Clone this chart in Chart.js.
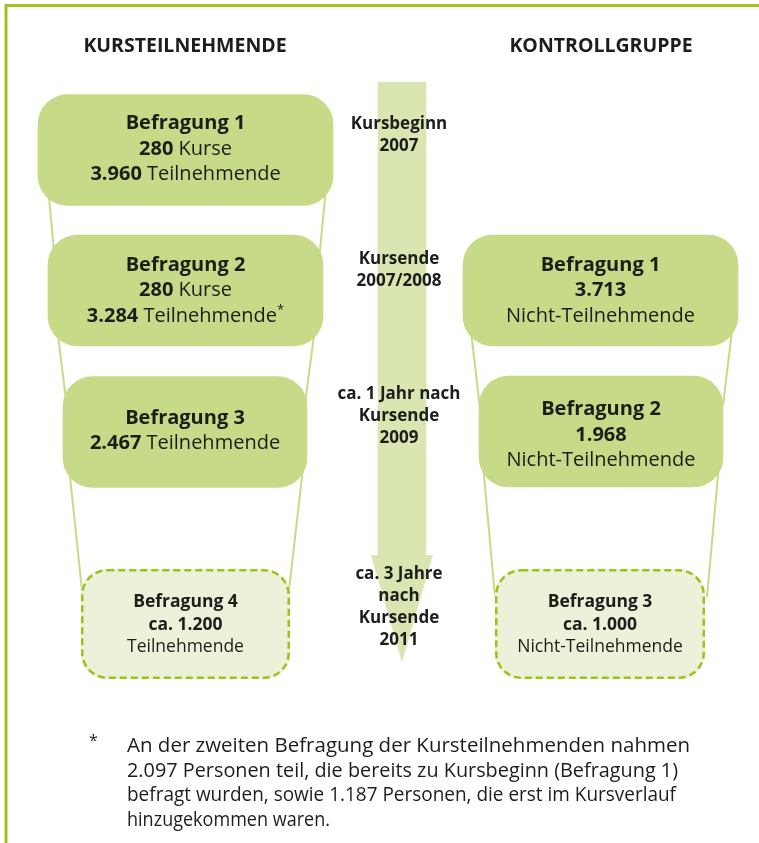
<!DOCTYPE html>
<html><head><meta charset="utf-8">
<script src="https://cdn.jsdelivr.net/npm/chart.js@4"></script>
<style>html,body{margin:0;padding:0;background:#fff;}#wrap{position:relative;width:759px;height:843px;}canvas{display:block;}</style>
</head><body><div id="wrap"><canvas id="c" width="759" height="843"></canvas></div>
<script>
// ---------- DATA ----------
const gruppen = ['KURSTEILNEHMENDE', 'KONTROLLGRUPPE'];
const kursBefragungen = ['Befragung 1', 'Befragung 2', 'Befragung 3', 'Befragung 4'];
const kursKurse = [280, 280, null, null];
const kursTeilnehmende = [3960, 3284, 2467, 1200];
const kursGeplant = [false, false, false, true];
const kursFussnote = [false, true, false, false];
const kontrollBefragungen = ['Befragung 1', 'Befragung 2', 'Befragung 3'];
const kontrollTeilnehmende = [3713, 1968, 1000];
const kontrollGeplant = [false, false, true];
const zeitpunkte = [['Kursbeginn', '2007'], ['Kursende', '2007/2008'], ['ca. 1 Jahr nach', 'Kursende', '2009'], ['ca. 3 Jahre', 'nach', 'Kursende', '2011']];
const fussnoteWiederholer = 2097;
const fussnoteNeu = 1187;

// ---------- LAYOUT / STYLE ----------
const FONT = '"Open Sans", "Noto Sans", sans-serif';
const COL = { box: '#c6da87', light: '#d9e6b1', dashFill: '#ebf2d9', dash: '#9cc21b', frame: '#9fc41f', text: '#1d1d1b' };
const kursBoxes = [[38, 333, 95, 205], [48, 323, 235, 346], [63, 307, 377, 487], [81, 290, 568, 680]];
const kursTextDy = [-1, 0, -1, 0];
const kontrollBoxes = [[463, 738, 235, 346], [479, 723, 376, 487], [495, 705, 568, 680]];
const kontrollTextDy = [0, 3.5, 0];
const connectors = [
  [48.3, 190, 54.8, 260], [325.8, 190, 319, 260],
  [58, 335, 66, 400], [314, 335, 305.5, 400],
  [69.3, 470, 82.7, 597], [302.8, 470, 288.2, 597],
  [471.5, 335, 479.5, 405], [731.5, 335, 723, 405],
  [483.5, 470, 495, 597], [718.5, 470, 707, 597]
];
const arrow = { cx: 402, w: 48, top: 82, headY: 555, headHalf: 31, tip: 662 };
const midX = 399;
const midFirstBaseline = [129, 264, 399, 579];
const midSpacing = 22;
const headerX = [185, 601], headerY = 52;
const footX = 127, footY = 752, footLH = 24.5, footWidths = [563, 551, 549, 203];
const fmt = n => String(n).replace(/\B(?=(\d{3})+(?!\d))/g, '.');

// ---------- DATASETS ----------
const solid = [], dashed = [];
const boxTexts = [];
kursBoxes.forEach((b, i) => {
  (kursGeplant[i] ? dashed : solid).push({ x: [b[0], b[1]], y: (b[2] + b[3]) / 2 });
  const lines = [[{ t: kursBefragungen[i], b: true }]];
  if (kursKurse[i] != null) lines.push([{ t: fmt(kursKurse[i]), b: true }, { t: ' Kurse' }]);
  if (kursGeplant[i]) { lines.push([{ t: 'ca. ' + fmt(kursTeilnehmende[i]), b: true }]); lines.push([{ t: 'Teilnehmende' }]); }
  else { const l = [{ t: fmt(kursTeilnehmende[i]), b: true }, { t: ' Teilnehmende' }]; if (kursFussnote[i]) l.push({ t: '*', sup: true }); lines.push(l); }
  boxTexts.push({ box: b, lines, small: kursGeplant[i], dy: kursTextDy[i] });
});
kontrollBoxes.forEach((b, i) => {
  (kontrollGeplant[i] ? dashed : solid).push({ x: [b[0], b[1]], y: (b[2] + b[3]) / 2 });
  const lines = [[{ t: kontrollBefragungen[i], b: true }],
    [{ t: (kontrollGeplant[i] ? 'ca. ' : '') + fmt(kontrollTeilnehmende[i]), b: true }],
    [{ t: 'Nicht-Teilnehmende' }]];
  boxTexts.push({ box: b, lines, small: kontrollGeplant[i], dy: kontrollTextDy[i] });
});

const datasets = [];
datasets.push({ type: 'bar', indexAxis: 'y', data: solid, backgroundColor: COL.box, borderWidth: 0, borderRadius: 30, borderSkipped: false, barThickness: 111, grouped: false, order: 1 });
const dashedIndex = datasets.length;
datasets.push({ type: 'bar', indexAxis: 'y', data: dashed, backgroundColor: COL.dashFill, borderWidth: 0, borderRadius: 26, borderSkipped: false, barThickness: 110, grouped: false, order: 1 });
connectors.forEach(c => datasets.push({ type: 'line', data: [{ x: c[0], y: c[1] }, { x: c[2], y: c[3] }], borderColor: COL.box, borderWidth: 2, pointRadius: 0, fill: false, order: 3 }));
datasets.push({ type: 'bar', indexAxis: 'x', data: [{ x: arrow.cx, y: [arrow.top, arrow.headY + 1] }], backgroundColor: COL.light, borderWidth: 0, barThickness: arrow.w, grouped: false, order: 4 });
datasets.push({ type: 'line', data: [{ x: arrow.cx - arrow.headHalf, y: arrow.headY }, { x: arrow.cx, y: arrow.tip }, { x: arrow.cx + arrow.headHalf, y: arrow.headY }], borderWidth: 0, pointRadius: 0, backgroundColor: COL.light, fill: { value: arrow.headY }, tension: 0, order: 4 });
datasets.push({ type: 'line', data: [{ x: 6, y: 843 }, { x: 6, y: 5.5 }, { x: 759, y: 5.5 }], borderColor: COL.frame, borderWidth: 3, pointRadius: 0, fill: false, order: 5 });

// ---------- TEXT HELPERS ----------
function drawRich(ctx, parts, cx, base, size) {
  let total = 0;
  const w = parts.map(p => { ctx.font = (p.b ? '700 ' : '400 ') + (p.sup ? size * 0.65 : size) + 'px ' + FONT; const m = ctx.measureText(p.t).width; total += m; return m; });
  let x = cx - total / 2;
  parts.forEach((p, i) => {
    ctx.font = (p.b ? '700 ' : '400 ') + (p.sup ? size * 0.65 : size) + 'px ' + FONT;
    ctx.fillText(p.t, x, p.sup ? base - size * 0.38 : base);
    x += w[i];
  });
}

const diagramPlugin = {
  id: 'diagram',
  afterDatasetsDraw(chart) {
    const ctx = chart.ctx, xs = chart.scales.x, ys = chart.scales.y;
    ctx.save();
    // dashed borders
    chart.getDatasetMeta(dashedIndex).data.forEach(el => {
      const p = el.getProps(['x', 'y', 'base', 'height'], true);
      const x0 = Math.min(p.x, p.base), x1 = Math.max(p.x, p.base);
      ctx.beginPath();
      ctx.roundRect(x0 + 1.25, p.y - p.height / 2 + 1.25, x1 - x0 - 2.5, p.height - 2.5, 25);
      ctx.setLineDash([7, 4]);
      ctx.lineWidth = 2.5;
      ctx.strokeStyle = COL.dash;
      ctx.stroke();
    });
    ctx.setLineDash([]);
    ctx.fillStyle = COL.text;
    ctx.textAlign = 'left';
    ctx.textBaseline = 'alphabetic';
    // headers
    gruppen.forEach((g, i) => drawRich(ctx, [{ t: g, b: true }], xs.getPixelForValue(headerX[i]), ys.getPixelForValue(headerY), 19.5));
    // box texts
    boxTexts.forEach(bt => {
      const b = bt.box;
      const cx = xs.getPixelForValue((b[0] + b[1]) / 2);
      const cy = ys.getPixelForValue((b[2] + b[3]) / 2) + bt.dy;
      const size = bt.small ? 17.5 : 20;
      const lh = bt.small ? 22.5 : 25.5;
      const n = bt.lines.length;
      const first = cy - (n - 1) * lh / 2 + 5.5;
      bt.lines.forEach((l, k) => drawRich(ctx, l, cx, first + k * lh, size));
    });
    // time labels
    zeitpunkte.forEach((lines, i) => lines.forEach((t, k) => drawRich(ctx, [{ t, b: true }], xs.getPixelForValue(midX), ys.getPixelForValue(midFirstBaseline[i] + k * midSpacing), 17)));
    // footnote
    const fn = ['An der zweiten Befragung der Kursteilnehmenden nahmen',
      fmt(fussnoteWiederholer) + ' Personen teil, die bereits zu Kursbeginn (Befragung 1)',
      'befragt wurden, sowie ' + fmt(fussnoteNeu) + ' Personen, die erst im Kursverlauf',
      'hinzugekommen waren.'];
    ctx.font = '400 16px ' + FONT;
    ctx.fillText('*', xs.getPixelForValue(89), ys.getPixelForValue(746));
    ctx.font = '400 20px ' + FONT;
    fn.forEach((t, k) => {
      const sx = footWidths[k] / ctx.measureText(t).width;
      ctx.save();
      ctx.translate(xs.getPixelForValue(footX), ys.getPixelForValue(footY + k * footLH));
      ctx.scale(sx, 1);
      ctx.fillText(t, 0, 0);
      ctx.restore();
    });
    ctx.restore();
  }
};

new Chart(document.getElementById('c'), {
  data: { datasets },
  options: {
    responsive: false, animation: false, devicePixelRatio: 1,
    layout: { padding: 0 },
    plugins: { legend: { display: false }, tooltip: { enabled: false } },
    scales: {
      x: { type: 'linear', min: 0, max: 759, display: false, offset: false, grid: { display: false } },
      y: { type: 'linear', min: 0, max: 843, reverse: true, display: false, offset: false, grid: { display: false } }
    }
  },
  plugins: [diagramPlugin]
});
</script></body></html>
